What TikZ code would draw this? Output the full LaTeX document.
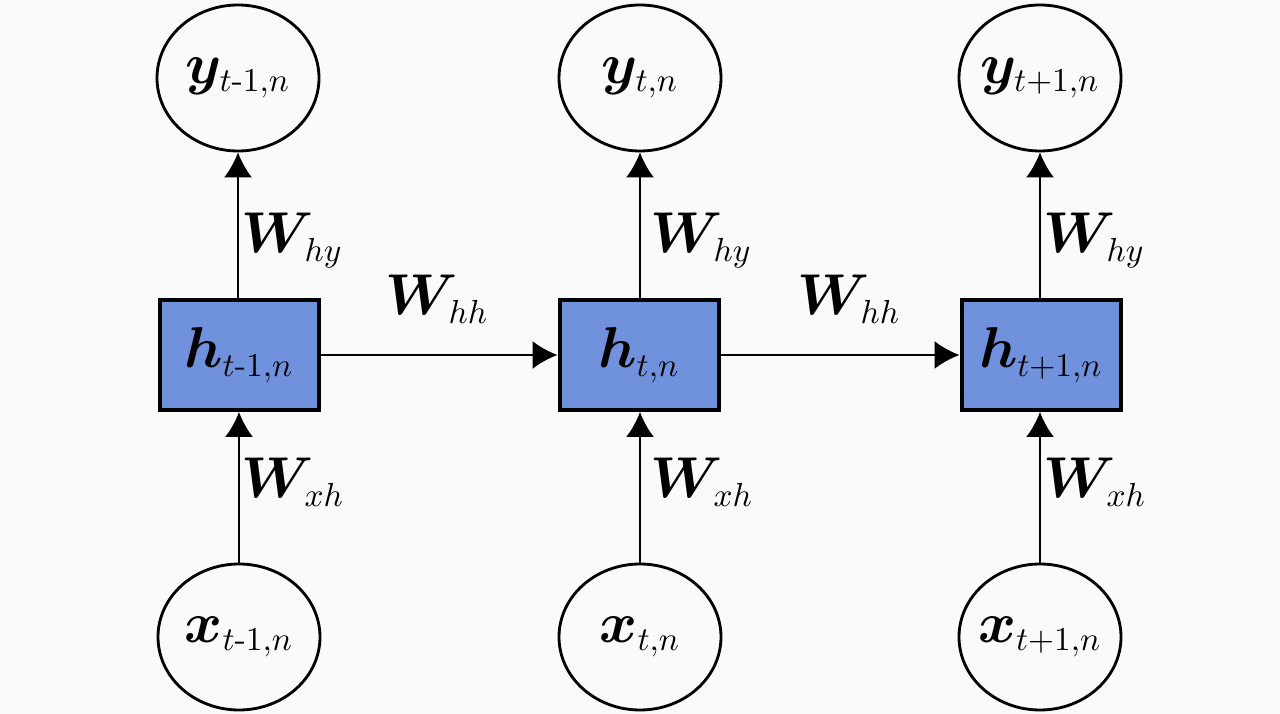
\documentclass[tikz,border=0pt]{standalone}
\usepackage{amsmath,bm}
\usetikzlibrary{arrows.meta,shapes.geometric}
\DeclareMathSizes{16.5}{16.5}{10.2}{7.5}
\definecolor{bgc}{HTML}{FAFAFA}
\definecolor{hfill}{HTML}{7092DC}
\tikzset{
  outnode/.style={ellipse,draw=black,line width=0.85pt,fill=bgc,minimum width=48.6pt,minimum height=43.8pt,inner sep=0pt},
  hidbox/.style={rectangle,draw=black,line width=1.2pt,fill=hfill,minimum width=47.7pt,minimum height=33pt,inner sep=0pt},
  conn/.style={line width=0.6pt,-{Latex[length=7.5pt,width=8.4pt]}},
  wlab/.style={anchor=base west,inner sep=0pt}
}
\newcommand{\fixw}[1]{\makebox[0pt]{#1}}
\begin{document}
\begin{tikzpicture}[x=0.3pt,y=-0.3pt,font=\fontsize{16.5}{20}\selectfont]
\fill[bgc] (0,0) rectangle (1280,714);
\useasboundingbox (0,0) rectangle (1280,714);
% top
\node[outnode] (y1) at (238,78) {\fixw{$\bm{y}_{t\text{-}1,n}$}};
\node[outnode] (y2) at (640,78) {\fixw{$\bm{y}_{t,n}$}};
\node[outnode] (y3) at (1040,78) {\fixw{$\bm{y}_{t+1,n}$}};
% hidden
\node[hidbox] (h1) at (239,355) {\fixw{$\bm{h}_{t\text{-}1,n}$}};
\node[hidbox] (h2) at (639,355) {\fixw{$\bm{h}_{t,n}$}};
\node[hidbox] (h3) at (1041,355) {\fixw{$\bm{h}_{t+1,n}$}};
% bottom
\node[outnode] (x1) at (239,637) {\fixw{$\bm{x}_{t\text{-}1,n}$}};
\node[outnode] (x2) at (640,637) {\fixw{$\bm{x}_{t,n}$}};
\node[outnode] (x3) at (1040,637) {\fixw{$\bm{x}_{t+1,n}$}};
% connectors
\draw[conn] (h1.north -| y1.south) -- (y1.south);
\draw[conn] (h2.north -| y2.south) -- (y2.south);
\draw[conn] (h3.north -| y3.south) -- (y3.south);
\draw[conn] (x1.north) -- (x1.north |- h1.south);
\draw[conn] (x2.north) -- (x2.north |- h2.south);
\draw[conn] (x3.north) -- (x3.north |- h3.south);
\draw[conn] (h1.east) -- (h2.west);
\draw[conn] (h2.east) -- (h3.west);
% labels
\node[wlab] (l1) at (241,253) {$\bm{W}_{hy}$};
\node[wlab] (l2) at (650,253) {$\bm{W}_{hy}$};
\node[wlab] (l3) at (1043,253) {$\bm{W}_{hy}$};
\node[wlab] (l4) at (241,498) {$\bm{W}_{xh}$};
\node[wlab] (l5) at (650,498) {$\bm{W}_{xh}$};
\node[wlab] (l6) at (1043,498) {$\bm{W}_{xh}$};
\node[wlab] (l7) at (385,315) {$\bm{W}_{hh}$};
\node[wlab] (l8) at (797,315) {$\bm{W}_{hh}$};
\end{tikzpicture}
\end{document}
